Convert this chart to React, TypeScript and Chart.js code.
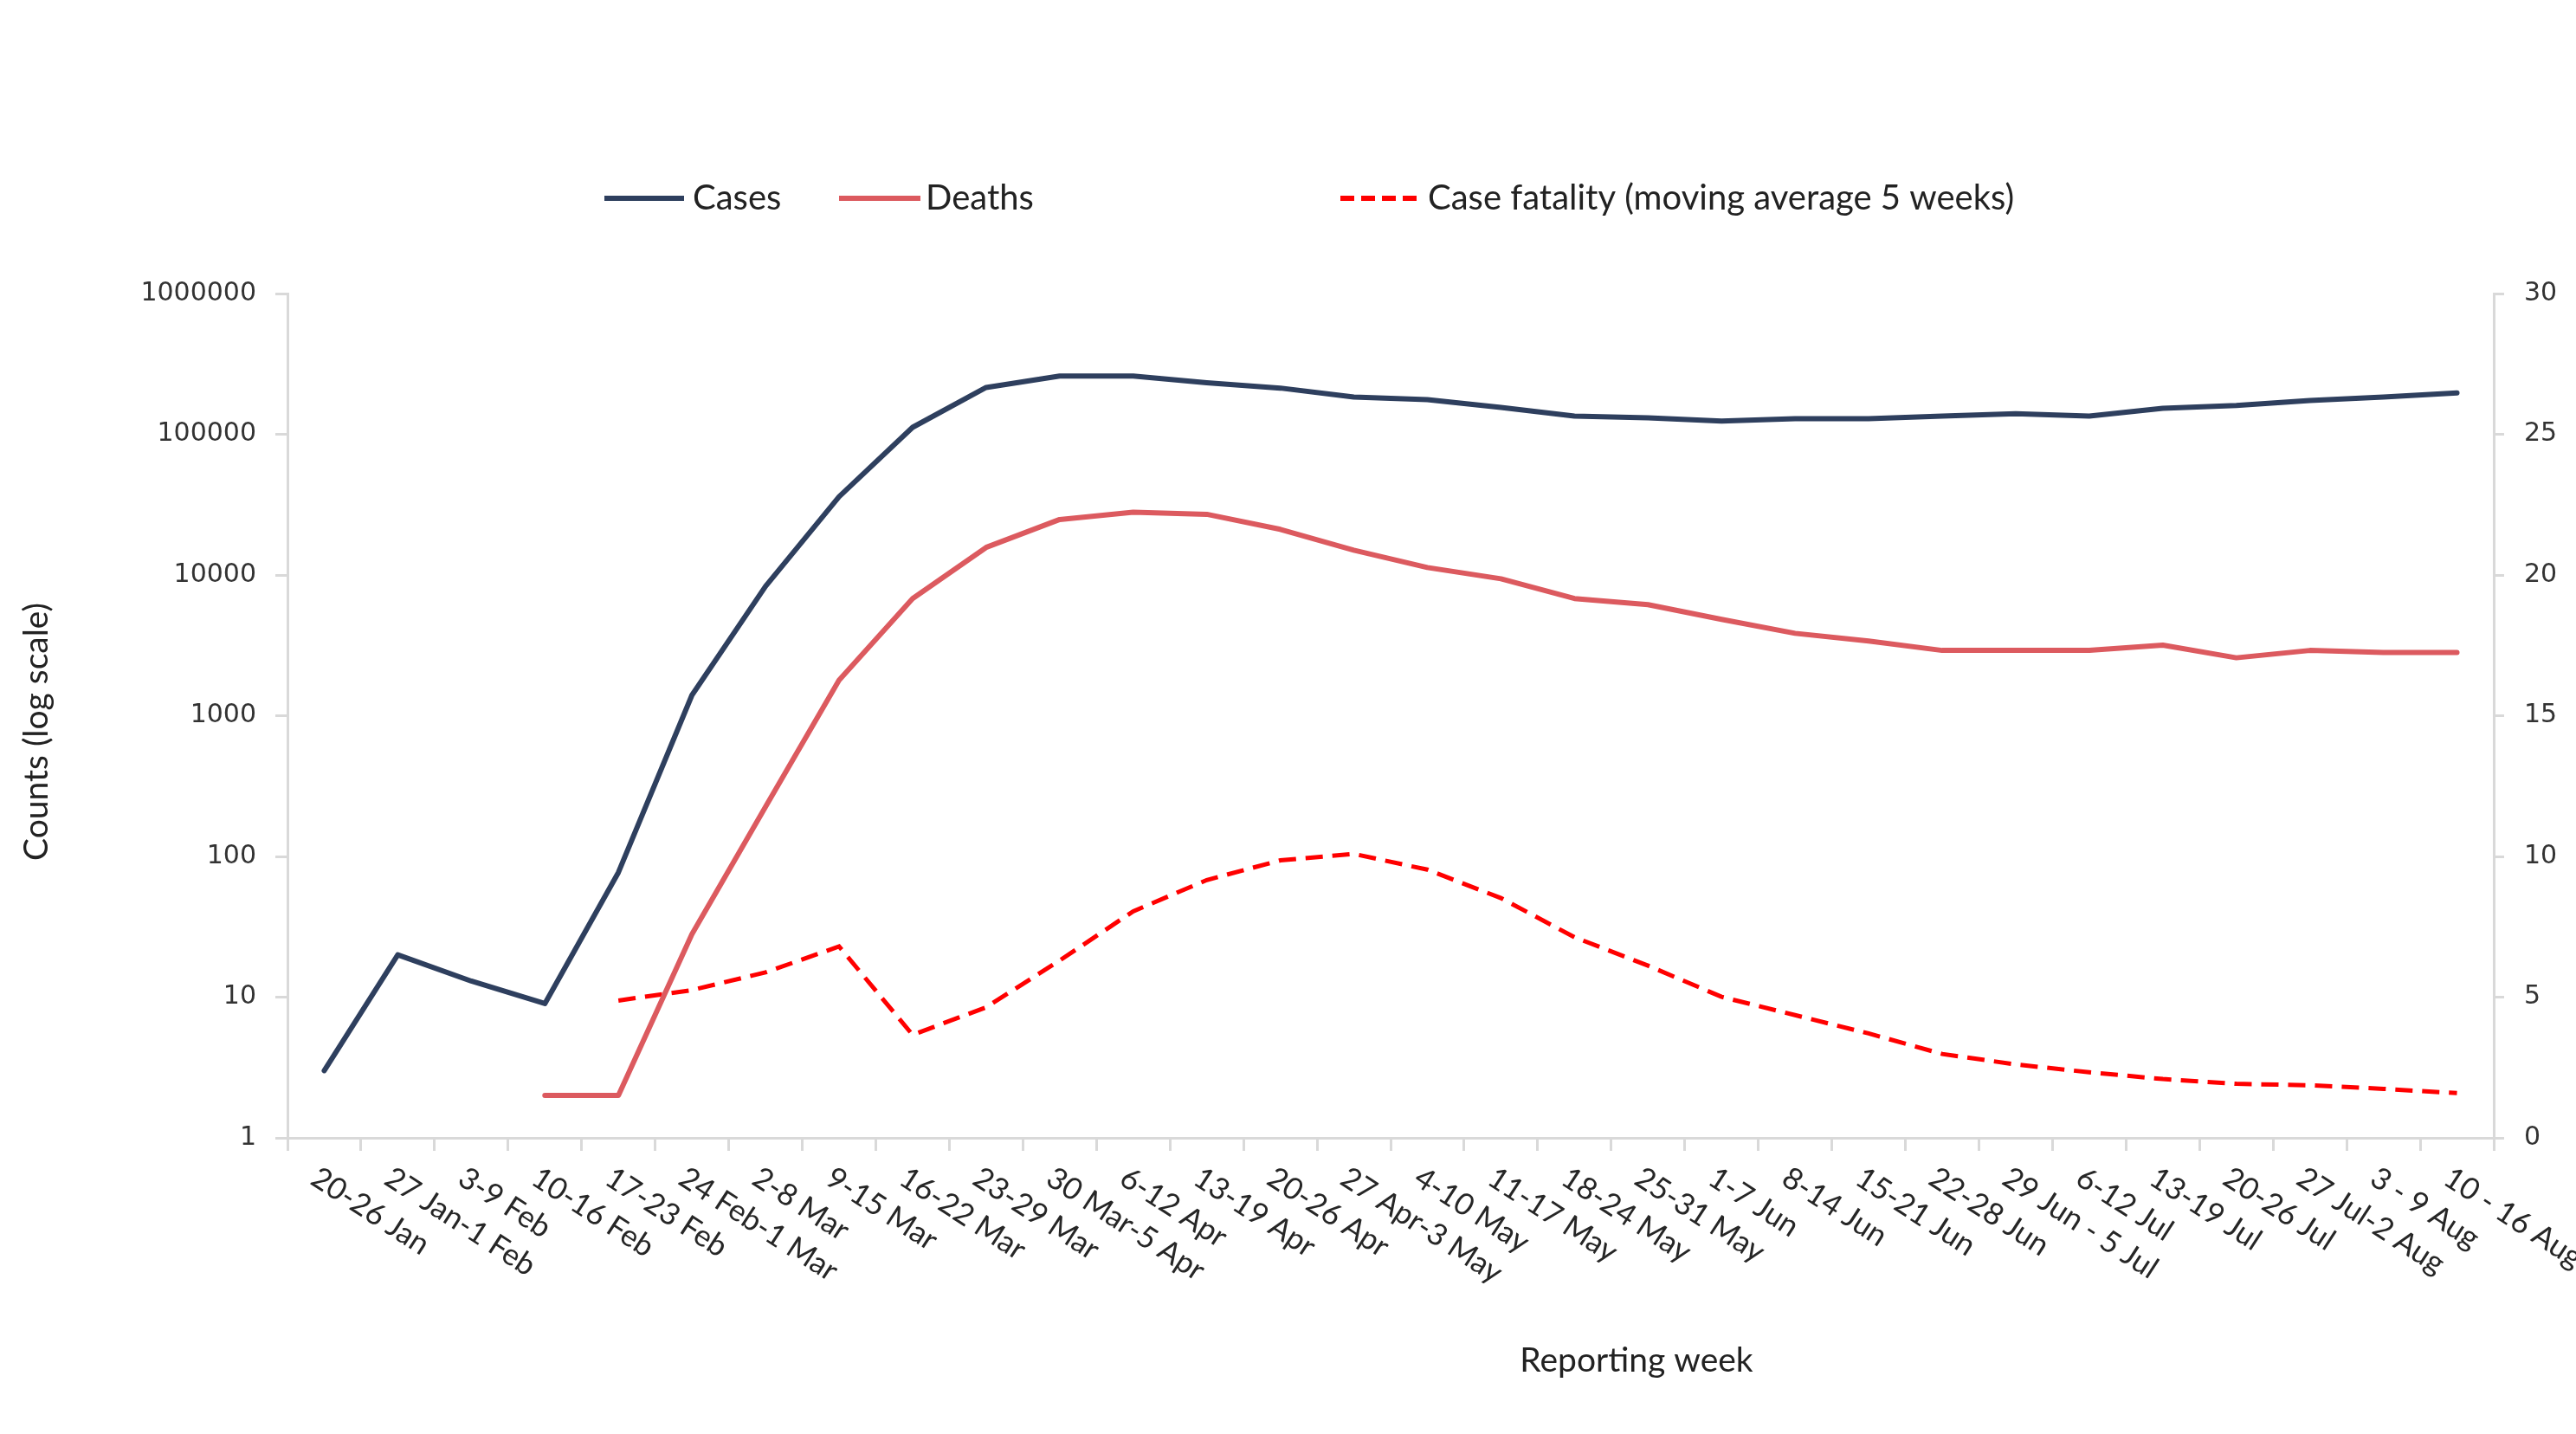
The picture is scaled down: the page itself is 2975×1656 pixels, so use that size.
import React, { useEffect, useRef } from 'react';
import { Chart, registerables } from 'chart.js';

Chart.register(...registerables);

const weeks = [
  '20-26 Jan', '27 Jan-1 Feb', '3-9 Feb', '10-16 Feb', '17-23 Feb', '24 Feb-1 Mar',
  '2-8 Mar', '9-15 Mar', '16-22 Mar', '23-29 Mar', '30 Mar-5 Apr', '6-12 Apr',
  '13-19 Apr', '20-26 Apr', '27 Apr-3 May', '4-10 May', '11-17 May', '18-24 May',
  '25-31 May', '1-7 Jun', '8-14 Jun', '15-21 Jun', '22-28 Jun', '29 Jun - 5 Jul',
  '6-12 Jul', '13-19 Jul', '20-26 Jul', '27 Jul-2 Aug', '3 - 9 Aug', '10 - 16 Aug',
];

const cases = [
  3, 20, 13, 9, 77, 1400, 8300, 36000, 112000, 215000, 259000, 259000,
  232000, 213000, 184000, 176000, 155000, 134500, 131000, 124000, 129000, 129000,
  134500, 140000, 134500, 153000, 160000, 174000, 184000, 197000,
];

const deaths = [
  null, null, null, 2, 2, 28, 225, 1790, 6800, 15700, 24800, 27900,
  27000, 21100, 15000, 11300, 9400, 6800, 6150, 4840, 3850, 3390,
  2910, 2910, 2910, 3170, 2580, 2910, 2810, 2810,
];

const fatality = [
  null, null, null, null, 4.88, 5.25, 5.88, 6.8, 3.66, 4.64, 6.3, 8.05,
  9.16, 9.86, 10.09, 9.53, 8.52, 7.13, 6.12, 5.01, 4.36, 3.71,
  2.98, 2.61, 2.33, 2.09, 1.92, 1.87, 1.74, 1.59,
];

const countTicks = [1, 10, 100, 1000, 10000, 100000, 1000000];
const fatalityTicks = [0, 5, 10, 15, 20, 25, 30];

const seriesNames = ['Cases', 'Deaths', 'Case fatality (moving average 5 weeks)'];
const seriesColors = ['#2E3F5E', '#DC5A5F', '#FF0000'];

const W = 2975;
const H = 1656;

const overlay = {
  id: 'overlay',
  afterDraw(chart: any) {
    const ctx = chart.ctx as CanvasRenderingContext2D;
    const xs = chart.scales.x;
    const area = chart.chartArea;
    ctx.save();

    // rotated category labels
    ctx.font = '35px Lato';
    ctx.fillStyle = '#262626';
    ctx.textAlign = 'left';
    ctx.textBaseline = 'top';
    weeks.forEach((w, i) => {
      const px = xs.getPixelForValue(i);
      ctx.save();
      ctx.translate(px - 2, area.bottom + 28);
      ctx.rotate((33 * Math.PI) / 180);
      ctx.fillText(w, 0, 0);
      ctx.restore();
    });

    // axis titles
    ctx.font = '39px Lato';
    ctx.fillStyle = '#222';
    ctx.textAlign = 'center';
    ctx.textBaseline = 'middle';
    ctx.fillText('Reporting week', 1890, 1571);
    ctx.save();
    ctx.translate(42, 845);
    ctx.rotate(-Math.PI / 2);
    ctx.fillText('Counts (log scale)', 0, 0);
    ctx.restore();

    // legend
    const ly = 229;
    const items = [
      { x0: 698, x1: 790, tx: 800, dash: [] as number[] },
      { x0: 969, x1: 1063, tx: 1069, dash: [] as number[] },
      { x0: 1548, x1: 1640, tx: 1649, dash: [16, 8] },
    ];
    items.forEach((it, i) => {
      ctx.beginPath();
      ctx.setLineDash(it.dash);
      ctx.strokeStyle = seriesColors[i];
      ctx.lineWidth = 6;
      ctx.lineCap = 'butt';
      ctx.moveTo(it.x0, ly);
      ctx.lineTo(it.x1, ly);
      ctx.stroke();
      ctx.setLineDash([]);
      ctx.font = '40px Lato';
      ctx.fillStyle = '#222';
      ctx.textAlign = 'left';
      ctx.textBaseline = 'middle';
      ctx.fillText(seriesNames[i], it.tx, ly);
    });
    ctx.restore();
  },
};

export default function App() {
  const ref = useRef<HTMLCanvasElement | null>(null);

  useEffect(() => {
    document.body.style.margin = '0';
    if (!ref.current) return;
    const axisGray = '#D9D9D9';
    const chart = new Chart(ref.current, {
      type: 'line',
      data: {
        labels: weeks,
        datasets: [
          {
            label: seriesNames[0],
            data: cases,
            borderColor: seriesColors[0],
            backgroundColor: seriesColors[0],
            borderWidth: 6,
            pointRadius: 0,
            tension: 0,
            borderJoinStyle: 'round',
            borderCapStyle: 'round',
            yAxisID: 'y',
          },
          {
            label: seriesNames[1],
            data: deaths,
            borderColor: seriesColors[1],
            backgroundColor: seriesColors[1],
            borderWidth: 6,
            pointRadius: 0,
            tension: 0,
            borderJoinStyle: 'round',
            borderCapStyle: 'round',
            yAxisID: 'y',
          },
          {
            label: seriesNames[2],
            data: fatality,
            borderColor: seriesColors[2],
            backgroundColor: seriesColors[2],
            borderWidth: 5,
            borderDash: [20, 11],
            pointRadius: 0,
            tension: 0,
            yAxisID: 'y1',
          },
        ],
      },
      options: {
        animation: false,
        responsive: false,
        devicePixelRatio: 1,
        layout: { padding: { top: 339, left: 0, right: 0, bottom: 0 } },
        plugins: {
          legend: { display: false },
          tooltip: { enabled: false },
          title: { display: false },
        },
        scales: {
          x: {
            type: 'category',
            offset: true,
            grid: {
              display: true,
              drawOnChartArea: false,
              drawTicks: true,
              tickLength: 15,
              color: axisGray,
              lineWidth: 3,
              offset: true,
            },
            border: { display: true, color: axisGray, width: 3 },
            ticks: { display: false },
            afterFit: (s: any) => {
              s.height = H - 1314;
            },
          },
          y: {
            type: 'logarithmic',
            position: 'left',
            min: 1,
            max: 1000000,
            afterBuildTicks: (s: any) => {
              s.ticks = countTicks.map((v) => ({ value: v }));
            },
            ticks: {
              callback: (v: any) => String(v),
              font: { family: 'DejaVu Sans', size: 30 },
              color: '#333',
              padding: 22,
              autoSkip: false,
            },
            grid: { drawOnChartArea: false, tickLength: 14, color: axisGray, lineWidth: 3 },
            border: { display: true, color: axisGray, width: 3 },
            afterFit: (s: any) => {
              s.width = 332;
            },
          },
          y1: {
            type: 'linear',
            position: 'right',
            min: 0,
            max: 30,
            afterBuildTicks: (s: any) => {
              s.ticks = fatalityTicks.map((v) => ({ value: v }));
            },
            ticks: {
              font: { family: 'DejaVu Sans', size: 30 },
              color: '#333',
              padding: 23,
              autoSkip: false,
            },
            grid: { drawOnChartArea: false, tickLength: 12, color: axisGray, lineWidth: 3 },
            border: { display: true, color: axisGray, width: 3 },
            afterFit: (s: any) => {
              s.width = W - 2880;
            },
          },
        },
      },
      plugins: [overlay],
    });
    return () => chart.destroy();
  }, []);

  return (
    <div style={{ position: 'absolute', left: 0, top: 0, width: W, height: H, background: '#fff' }}>
      <canvas ref={ref} width={W} height={H} style={{ width: W, height: H, display: 'block' }} />
    </div>
  );
}
